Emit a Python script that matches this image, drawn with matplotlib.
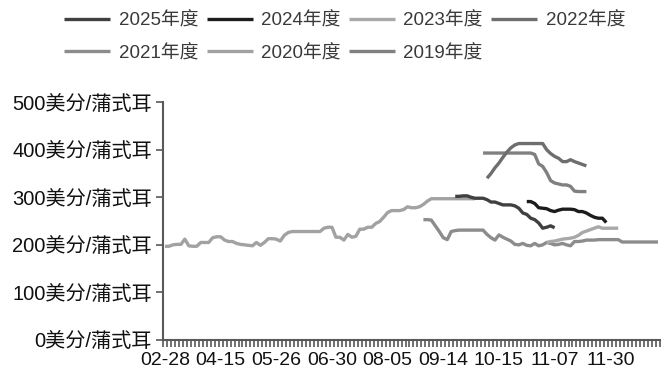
import numpy as np
import matplotlib
matplotlib.use("Agg")
import matplotlib.pyplot as plt

plt.rcParams['font.family'] = ['Liberation Sans', 'Noto Sans CJK SC', 'DejaVu Sans']

# ---- data ----
n_cats = 125
tick_labels = ["02-28", "04-15", "05-26", "06-30", "08-05", "09-14", "10-15", "11-07", "11-30"]
label_step = 14

y_ticks = [0, 100, 200, 300, 400, 500]
y_unit = "美分/蒲式耳"

s2025_start = 73
s2025 = [302, 302, 303, 303, 300, 298, 298, 298, 295, 290, 290, 287, 284, 284, 284,
         282, 277, 267, 264, 256, 253, 246, 235, 237, 240, 236]

s2024_start = 91
s2024 = [291, 291, 287, 278, 277, 276, 272, 270, 273, 275, 275, 275, 274, 270, 270,
         267, 262, 258, 256, 256, 247]

s2023_start = 96
s2023 = [205, 207, 208, 210, 212, 213, 214, 216, 220, 226, 229, 232, 235, 238, 235,
         235, 235, 235, 235]

s2022_start = 81
s2022 = [340, 350, 362, 372, 384, 395, 404, 410, 413, 413, 413, 413, 413, 413, 413,
         400, 392, 386, 382, 375, 375, 379, 375, 372, 369, 366]

s2021_start = 65
s2021 = [253, 253, 252, 240, 228, 215, 211, 228, 230, 231, 231, 231, 231, 231, 231,
         231, 222, 215, 210, 221, 216, 212, 208, 201, 200, 203, 199, 198, 203, 198,
         200, 205, 203, 200, 201, 203, 200, 198, 207, 207, 208, 210, 210, 210, 211,
         211, 211, 211, 211, 211, 206, 206, 206, 206, 206, 206, 206, 206, 206, 206]

s2020_start = 0
s2020 = [197, 197, 200, 201, 201, 212, 198, 197, 197, 205, 205, 205, 215, 217, 217,
         210, 207, 207, 203, 201, 200, 199, 198, 205, 199, 205, 213, 213, 212, 208,
         220, 226, 228, 228, 228, 228, 228, 228, 228, 228, 235, 237, 237, 216, 216,
         210, 222, 216, 218, 233, 233, 237, 237, 245, 249, 258, 268, 272, 272, 272,
         274, 280, 278, 278, 280, 285, 292, 297, 297, 297, 297, 297, 297, 297, 297,
         297, 297, 297, 297]

s2019_start = 80
s2019 = [393, 393, 393, 393, 393, 393, 393, 393, 393, 393, 393, 393, 393, 390, 370,
         365, 352, 335, 330, 328, 326, 326, 323, 313, 312, 312, 312]

series = [
    ("2025年度", s2025_start, s2025, "#404040"),
    ("2024年度", s2024_start, s2024, "#1c1c1c"),
    ("2023年度", s2023_start, s2023, "#a8a8a8"),
    ("2022年度", s2022_start, s2022, "#6e6e6e"),
    ("2021年度", s2021_start, s2021, "#8c8c8c"),
    ("2020年度", s2020_start, s2020, "#a2a2a2"),
    ("2019年度", s2019_start, s2019, "#808080"),
]

# ---- figure ----
fig = plt.figure(figsize=(6.69, 3.84), dpi=100)
ax = fig.add_axes([0.2436, 0.1146, 0.9865 - 0.2436, 0.734 - 0.1146])

draw_order = ["2020年度", "2021年度", "2019年度", "2023年度", "2022年度", "2025年度", "2024年度"]
handles = {}
for name, start, vals, color in series:
    x = np.arange(start, start + len(vals))
    ln, = ax.plot(x, vals, color=color, lw=2.4, solid_capstyle='butt',
                  zorder=2 + draw_order.index(name))
    handles[name] = ln

ax.set_xlim(-0.5, n_cats - 0.5)
ax.set_ylim(0, 500)

ax.set_yticks(y_ticks)
ax.set_yticklabels([f"{v}{y_unit}" for v in y_ticks], fontsize=14.5, color="#111111")

label_pos = [i * label_step for i in range(len(tick_labels))]
ax.set_xticks(label_pos)
ax.set_xticklabels(tick_labels, fontsize=14, color="#111111")
ax.set_xticks(np.arange(-0.5, n_cats, 1.0), minor=True)
ax.tick_params(axis='x', which='major', length=0, pad=9)
ax.tick_params(axis='x', which='minor', length=5, width=1.2, color="#595959")
ax.tick_params(axis='y', which='major', length=5, width=1.2, color="#595959", pad=3)

for s in ["top", "right"]:
    ax.spines[s].set_visible(False)
for s in ["left", "bottom"]:
    ax.spines[s].set_color("#595959")
    ax.spines[s].set_linewidth(1.5)

# legend order: row-major in reference; matplotlib fills columns first
legend_order = ["2025年度", "2021年度", "2024年度", "2020年度", "2023年度", "2019年度", "2022年度"]
leg = fig.legend([handles[n] for n in legend_order], legend_order, loc="upper left",
                 bbox_to_anchor=(0.078, 1.0), ncol=4, frameon=False,
                 fontsize=13.5, handlelength=2.45, handletextpad=0.45,
                 columnspacing=0.45, labelspacing=0.8, borderaxespad=0.25)
for t in leg.get_texts():
    t.set_color("#3a3a3a")

fig.savefig("out.png", dpi=100)
